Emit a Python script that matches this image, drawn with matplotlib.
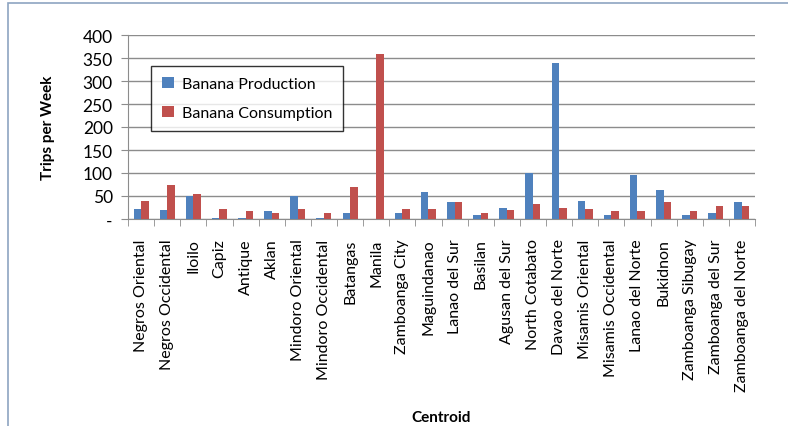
import numpy as np
import matplotlib
matplotlib.use("Agg")
import matplotlib.pyplot as plt
from matplotlib.patches import Rectangle

centroids = ["Negros Oriental", "Negros Occidental", "Iloilo", "Capiz", "Antique",
             "Aklan", "Mindoro Oriental", "Mindoro Occidental", "Batangas", "Manila",
             "Zamboanga City", "Maguindanao", "Lanao del Sur", "Basilan",
             "Agusan del Sur", "North Cotabato", "Davao del Norte", "Misamis Oriental",
             "Misamis Occidental", "Lanao del Norte", "Bukidnon", "Zamboanga Sibugay",
             "Zamboanga del Sur", "Zamboanga del Norte"]
production = [22, 20, 49, 3, 3, 17, 49, 2, 14, 0, 12, 59, 36, 9, 25, 99, 339, 39,
              9, 95, 64, 9, 14, 36]
consumption = [39, 73, 54, 22, 17, 14, 22, 12, 70, 359, 22, 22, 36, 12, 20, 33, 25, 22,
               17, 17, 36, 17, 28, 28]
yticks = [0, 50, 100, 150, 200, 250, 300, 350, 400]
ytick_labels = ["-", "50", "100", "150", "200", "250", "300", "350", "400"]

plt.rcParams['font.family'] = ['Lato', 'DejaVu Sans']

fig = plt.figure(figsize=(7.88, 4.27), dpi=100)
ax = fig.add_axes([128 / 788, 1 - 220 / 427, (755 - 128) / 788, (220 - 36) / 427])

# outer chart frame (cropped)
fig.patches.append(Rectangle((8 / 788, -0.1), 1.2, 1 - 4 / 427 + 0.1, transform=fig.transFigure,
                             fill=False, edgecolor='#8EA4C1', linewidth=1.2))

x = np.arange(len(centroids))
w = 1 / 3.5
ax.bar(x - w / 2, production, width=w, color='#4F81BD', label='Banana Production', zorder=3)
ax.bar(x + w / 2, consumption, width=w, color='#C0504D', label='Banana Consumption', zorder=3)

ax.set_xlim(-0.5, len(centroids) - 0.5)
ax.set_ylim(0, 400)
ax.set_yticks(yticks)
ax.set_yticklabels(ytick_labels, fontsize=12.5)
ax.yaxis.grid(True, color='#8C8C8C', linewidth=1, zorder=0)

ax.set_xticks(x)
ax.set_xticklabels(centroids, rotation=90, fontsize=11.5)
ax.set_xticks(np.arange(len(centroids) + 1) - 0.5, minor=True)
ax.tick_params(axis='x', which='major', length=0, pad=14)
ax.tick_params(axis='x', which='minor', length=5, color='#8C8C8C', direction='out')
ax.tick_params(axis='y', length=5, color='#8C8C8C', pad=6)

for s in ['top', 'right']:
    ax.spines[s].set_visible(False)
for s in ['left', 'bottom']:
    ax.spines[s].set_color('#8C8C8C')

ax.set_ylabel('Trips per Week', fontsize=11, fontweight='bold', labelpad=20)
ax.set_xlabel('Centroid', fontsize=11, fontweight='bold', labelpad=14)

leg = ax.legend(loc='upper left', bbox_to_anchor=(0.037, 0.832), borderaxespad=0, fontsize=11.5,
                frameon=True, fancybox=False, edgecolor='black', handlelength=0.7,
                handleheight=0.7, labelspacing=0.9, borderpad=0.7, handletextpad=0.5)
leg.get_frame().set_linewidth(1.0)

fig.savefig("out.png", dpi=100)
